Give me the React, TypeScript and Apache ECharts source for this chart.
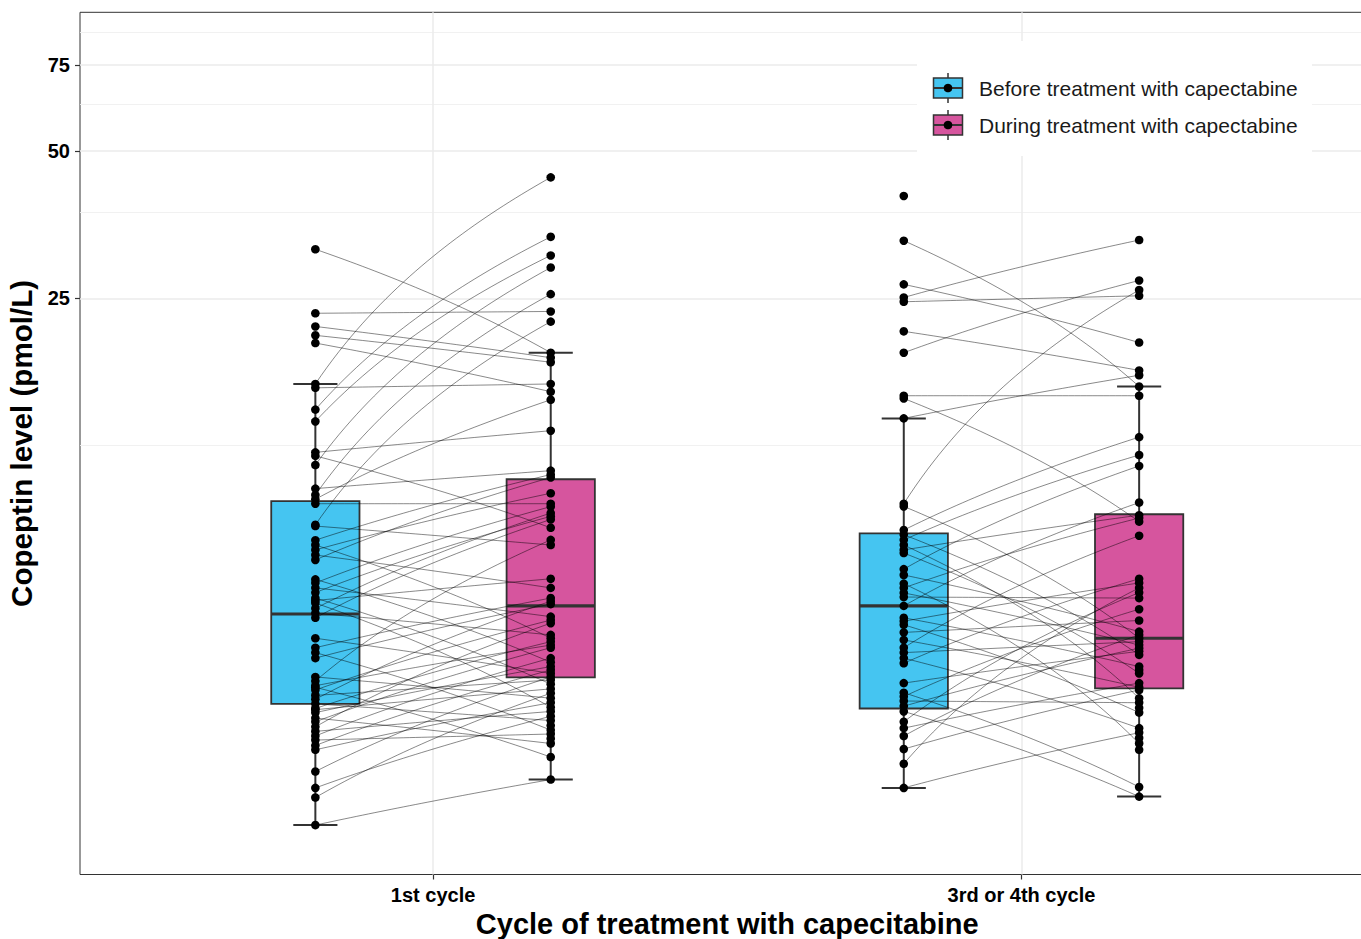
import React, { useEffect, useRef } from "react";
import * as echarts from "echarts";

// ---------- data ----------
const categories = ["1st cycle", "3rd or 4th cycle"];
const groups = ["Before treatment with capectabine", "During treatment with capectabine"];
const groupColors = ["#45C5F1", "#D6559E"];
const yTickValues = [25, 50, 75];
const yMinorGridValues = [12.5, 37.5, 62.5, 87.5];

// box statistics per cycle: [lower whisker, Q1, median, Q3, upper whisker]
const boxBefore = [
  [2.09, 3.7, 5.65, 9.62, 16.7],
  [2.49, 3.62, 5.87, 8.26, 14.2],
];
const boxDuring = [
  [2.59, 4.19, 5.87, 10.66, 19.35],
  [2.39, 3.98, 5.04, 9.04, 16.5],
];

// paired patients, 1st cycle (index = patient)
const cycle1Before = [
  31.5, 23.3, 21.9, 21.0, 20.25, 16.7, 16.4, 14.8, 14.0, 12.1, 11.9, 11.4, 10.2, 9.9, 9.7, 9.5,
  8.6, 8.55, 8.0, 7.82, 7.64, 7.46, 7.29, 6.65, 6.54, 6.39, 6.25, 6.09, 6.02, 5.95, 5.8, 5.67,
  5.55, 5.04, 4.82, 4.71, 4.59, 4.2, 4.12, 4.03, 4.0, 3.95, 3.85, 3.78, 3.7, 3.62, 3.6, 3.55,
  3.46, 3.4, 3.32, 3.25, 3.18, 3.12, 3.04, 2.98, 2.69, 2.49, 2.38, 2.09, null, null,
];
const cycle1During = [
  19.35, 23.5, 18.9, 18.5, 16.1, 44.2, 16.7, 33.4, 30.6, 13.4, 8.48, 28.9, 11.1, 25.5, 15.5, 9.5,
  22.4, 7.82, 10.9, 5.04, 9.98, 6.39, 10.75, 4.5, 9.37, 5.58, 8.95, 4.06, 6.67, 3.64, 9.09, 5.12,
  8.82, 4.27, 6.09, 3.27, 5.92, 3.8, 8.01, 4.88, 2.88, 5.49, 4.14, 6.0, 3.42, 4.96, 3.97, 4.41,
  3.07, 4.82, 5.41, 3.57, 4.59, 3.21, 4.34, 3.72, 4.2, 3.49, 3.89, 2.59, 3.34, 3.14,
];

// paired patients, 3rd or 4th cycle
const cycle3Before = [
  40.5, 32.8, 26.7, 25.1, 24.6, 21.4, 19.35, 15.8, 15.6, 14.2, 9.5, 9.38, 8.39, 8.21, 8.01, 7.82,
  7.64, 7.53, 6.98, 6.79, 6.52, 6.39, 6.24, 6.12, 5.87, 5.55, 5.46, 5.37, 5.18, 5.0, 4.82, 4.71,
  4.59, 4.48, 4.08, 3.9, 3.83, 3.75, 3.66, 3.57, 3.4, 3.3, 3.18, 2.99, 2.79, 2.49, null, null, null, null,
];
const cycle3During = [
  null, 16.5, 20.3, 32.9, 25.3, 17.8, 27.2, 15.8, 8.73, 17.4, 26.0, 5.04, 13.0, 4.66, 11.95, 3.8,
  9.0, 4.27, 11.35, 5.2, 3.07, 8.88, 4.88, 6.09, 9.55, 4.41, 6.54, 3.55, 5.48, 4.0, 8.17, 4.96,
  3.3, 6.67, 4.74, 2.5, 5.78, 3.72, 4.81, 2.39, 6.25, 4.08, 5.12, 3.95, 6.39, 3.23, 4.34, 3.63, 3.15, 2.98,
];

// ---------- layout / style constants ----------
const FONT = "'Liberation Sans', Arial, Helvetica, sans-serif";
const DODGE = [-0.2, 0.2];
const BOX_W = 0.15;
const CAP_W = 0.075;
const Y_MIN = 1.656;
const Y_MAX = 96.2;

function buildOption() {
  const cycles = [
    { before: cycle1Before, during: cycle1During },
    { before: cycle3Before, during: cycle3During },
  ];
  const boxes: number[][] = [];
  const pairLines: number[][] = [];
  const points: number[][] = [];
  cycles.forEach((c, ci) => {
    const xb = ci + 1 + DODGE[0];
    const xd = ci + 1 + DODGE[1];
    boxes.push([xb, ...boxBefore[ci], 0]);
    boxes.push([xd, ...boxDuring[ci], 1]);
    c.before.forEach((b, i) => {
      const d = c.during[i];
      if (b != null && d != null) pairLines.push([xb, b, xd, d]);
      if (b != null) points.push([xb, b]);
      if (d != null) points.push([xd, d]);
    });
  });

  const gridLineMajor = { color: "#EBEBEB", width: 1.5, type: "solid" };
  const gridLineMinor = { color: "#EFEFEF", width: 0.9, type: "solid" };
  const markData: any[] = [];
  yMinorGridValues.forEach((v) => markData.push({ yAxis: v, lineStyle: gridLineMinor }));
  yTickValues.forEach((v) => markData.push({ yAxis: v, lineStyle: gridLineMajor }));
  categories.forEach((_, i) => markData.push({ xAxis: i + 1, lineStyle: gridLineMajor }));

  const legendGraphics: any[] = [
    {
      type: "rect",
      z: 100,
      shape: { x: 917, y: 41, width: 395, height: 115 },
      style: { fill: "#ffffff" },
    },
  ];
  groups.forEach((name, i) => {
    const cy = 88 + i * 37;
    legendGraphics.push(
      { type: "line", z: 101, shape: { x1: 948, y1: cy - 15, x2: 948, y2: cy + 15 }, style: { stroke: "#333333", lineWidth: 1.5 } },
      { type: "rect", z: 102, shape: { x: 933.5, y: cy - 10, width: 29, height: 20 }, style: { fill: groupColors[i], stroke: "#333333", lineWidth: 1.5 } },
      { type: "line", z: 103, shape: { x1: 933.5, y1: cy, x2: 962.5, y2: cy }, style: { stroke: "#333333", lineWidth: 2 } },
      { type: "circle", z: 104, shape: { cx: 948, cy, r: 4.3 }, style: { fill: "#000000" } },
      {
        type: "text",
        z: 104,
        x: 979,
        y: cy,
        style: { text: name, fontSize: 21, fontFamily: FONT, fill: "#1A1A1A", verticalAlign: "middle", align: "left" },
      }
    );
  });

  return {
    animation: false,
    backgroundColor: "#ffffff",
    textStyle: { fontFamily: FONT },
    grid: {
      left: 80,
      right: -13.5,
      top: 12.3,
      bottom: 64.5,
      outerBoundsMode: "none",
      containLabel: false,
      show: true,
      borderColor: "#333333",
      borderWidth: 1,
      backgroundColor: "transparent",
    },
    xAxis: {
      type: "value",
      min: 0.4,
      max: 2.6,
      name: "Cycle of treatment with capecitabine",
      nameLocation: "middle",
      nameGap: 24,
      nameTextStyle: { fontSize: 29, fontWeight: "bold", color: "#000", fontFamily: FONT, lineHeight: 30 },
      axisLine: { show: false },
      axisTick: { show: true, length: 5, lineStyle: { color: "#333333", width: 1.2 }, customValues: [1, 2] },
      axisLabel: {
        customValues: [1, 2],
        formatter: (v: number) => categories[Math.round(v) - 1] ?? "",
        fontSize: 20,
        fontWeight: "bold",
        color: "#000",
        fontFamily: FONT,
        margin: 10,
      },
      splitLine: { show: false },
    },
    yAxis: [
      {
        type: "log",
        logBase: 10,
        min: Y_MIN,
        max: Y_MAX,
        axisLine: { show: false },
        axisTick: { show: false },
        axisLabel: { show: false },
        splitLine: { show: false },
        minorSplitLine: { show: false },
      },
      {
        type: "value",
        position: "left",
        min: Math.log(Y_MIN),
        max: Math.log(Y_MAX),
        name: "Copeptin level (pmol/L)",
        nameLocation: "middle",
        nameGap: 40,
        nameTextStyle: { fontSize: 29.6, fontWeight: "bold", color: "#000", fontFamily: FONT },
        axisLine: { show: false },
        axisTick: {
          show: true,
          length: 5,
          lineStyle: { color: "#333333", width: 1.2 },
          customValues: yTickValues.map((v) => Math.log(v)),
        },
        axisLabel: {
          customValues: yTickValues.map((v) => Math.log(v)),
          formatter: (v: number) => String(Math.round(Math.exp(v))),
          fontSize: 20,
          fontWeight: "bold",
          color: "#000",
          fontFamily: FONT,
          margin: 10,
        },
        splitLine: { show: false },
      },
    ],
    graphic: legendGraphics,
    series: [
      {
        type: "custom",
        name: "boxes",
        z: 2,
        xAxisIndex: 0,
        yAxisIndex: 0,
        silent: true,
        encode: { x: 0, y: [1, 2, 3, 4, 5] },
        data: boxes,
        renderItem: (_params: any, api: any) => {
          const x = api.value(0);
          const lo = api.value(1);
          const q1 = api.value(2);
          const med = api.value(3);
          const q3 = api.value(4);
          const hi = api.value(5);
          const gi = api.value(6);
          const tl = api.coord([x - BOX_W / 2, q3]);
          const br = api.coord([x + BOX_W / 2, q1]);
          const pHi = api.coord([x, hi]);
          const pLo = api.coord([x, lo]);
          const pQ3 = api.coord([x, q3]);
          const pQ1 = api.coord([x, q1]);
          const capHiL = api.coord([x - CAP_W / 2, hi]);
          const capHiR = api.coord([x + CAP_W / 2, hi]);
          const capLoL = api.coord([x - CAP_W / 2, lo]);
          const capLoR = api.coord([x + CAP_W / 2, lo]);
          const mL = api.coord([x - BOX_W / 2, med]);
          const mR = api.coord([x + BOX_W / 2, med]);
          const ws = { stroke: "#333333", lineWidth: 2 };
          return {
            type: "group",
            children: [
              { type: "line", shape: { x1: pQ3[0], y1: pQ3[1], x2: pHi[0], y2: pHi[1] }, style: ws },
              { type: "line", shape: { x1: pQ1[0], y1: pQ1[1], x2: pLo[0], y2: pLo[1] }, style: ws },
              { type: "line", shape: { x1: capHiL[0], y1: capHiL[1], x2: capHiR[0], y2: capHiR[1] }, style: ws },
              { type: "line", shape: { x1: capLoL[0], y1: capLoL[1], x2: capLoR[0], y2: capLoR[1] }, style: ws },
              {
                type: "rect",
                shape: { x: tl[0], y: tl[1], width: br[0] - tl[0], height: br[1] - tl[1] },
                style: { fill: groupColors[gi], stroke: "#333333", lineWidth: 1.8 },
              },
              { type: "line", shape: { x1: mL[0], y1: mL[1], x2: mR[0], y2: mR[1] }, style: { stroke: "#333333", lineWidth: 3.2 } },
            ],
          };
        },
      },
      {
        type: "custom",
        name: "pairs",
        z: 3,
        xAxisIndex: 0,
        yAxisIndex: 0,
        silent: true,
        encode: { x: [0, 2], y: [1, 3] },
        data: pairLines,
        renderItem: (_params: any, api: any) => {
          const x1 = api.value(0);
          const y1 = api.value(1);
          const x2 = api.value(2);
          const y2 = api.value(3);
          const pts: number[][] = [];
          const n = 40;
          for (let k = 0; k <= n; k++) {
            const t = k / n;
            pts.push(api.coord([x1 + (x2 - x1) * t, y1 + (y2 - y1) * t]));
          }
          return {
            type: "polyline",
            shape: { points: pts },
            style: { stroke: "rgba(0,0,0,0.62)", lineWidth: 0.75, fill: "none" },
          };
        },
      },
      {
        type: "scatter",
        name: "points",
        z: 4,
        xAxisIndex: 0,
        yAxisIndex: 0,
        silent: true,
        symbol: "circle",
        symbolSize: 8.6,
        itemStyle: { color: "#000000", opacity: 1 },
        data: points,
        markLine: {
          z: 1,
          silent: true,
          symbol: ["none", "none"],
          label: { show: false },
          data: markData,
        },
      },
    ],
  };
}

export default function App() {
  const ref = useRef<HTMLDivElement>(null);
  useEffect(() => {
    if (!ref.current) return;
    const chart = echarts.init(ref.current, null, { renderer: "svg" });
    chart.setOption(buildOption() as any);
    return () => chart.dispose();
  }, []);
  return (
    <div
      ref={ref}
      style={{ position: "absolute", left: 0, top: 0, width: 1361, height: 939, background: "#fff" }}
    />
  );
}
